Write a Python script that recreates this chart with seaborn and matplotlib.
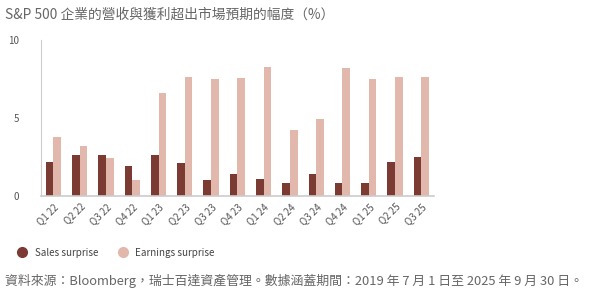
import matplotlib
matplotlib.use("Agg")
import matplotlib.pyplot as plt
import seaborn as sns
import pandas as pd
from matplotlib.lines import Line2D

quarters = ["Q1 22", "Q2 22", "Q3 22", "Q4 22", "Q1 23", "Q2 23", "Q3 23", "Q4 23",
            "Q1 24", "Q2 24", "Q3 24", "Q4 24", "Q1 25", "Q2 25", "Q3 25"]
sales_surprise = [2.2, 2.6, 2.6, 1.9, 2.6, 2.1, 1.0, 1.4, 1.1, 0.85, 1.4, 0.85, 0.8, 2.2, 2.5]
earnings_surprise = [3.8, 3.2, 2.4, 1.0, 6.6, 7.6, 7.5, 7.55, 8.25, 4.2, 4.9, 8.2, 7.5, 7.65, 7.6]
series_names = ["Sales surprise", "Earnings surprise"]
yticks = [0, 5, 10]
title = "S&P 500 企業的營收與獲利超出市場預期的幅度（%）"
footer = "資料來源：Bloomberg，瑞士百達資產管理。數據涵蓋期間：2019 年 7 月 1 日至 2025 年 9 月 30 日。"

colors = ["#7b3b32", "#e2b8ad"]

df = pd.DataFrame({
    "quarter": quarters * 2,
    "value": sales_surprise + earnings_surprise,
    "series": [series_names[0]] * len(quarters) + [series_names[1]] * len(quarters),
})

sns.set_style("white")
plt.rcParams["font.family"] = ["Noto Sans CJK TC", "DejaVu Sans"]

fig = plt.figure(figsize=(5.92, 3.0), dpi=100)
ax = fig.add_axes([0.069, 0.347, 0.664, 0.52])

sns.barplot(data=df, x="quarter", y="value", hue="series", palette=colors,
            width=0.58, ax=ax, legend=False, saturation=1, linewidth=0, gap=0)

ax.set_xlim(-0.48, len(quarters) - 1 + 0.48)
ax.set_ylim(0, 10)
ax.set_yticks(yticks)
ax.set_yticklabels([str(t) for t in yticks], fontsize=7, color="#555555")
ax.set_xticks(range(len(quarters)))
ax.set_xticklabels(quarters, rotation=45, ha="right", rotation_mode="anchor",
                   fontsize=7, color="#555555")
ax.tick_params(axis="y", length=0, pad=16)
ax.tick_params(axis="x", length=0, pad=4)
ax.set_xlabel("")
ax.set_ylabel("")
for s in ["top", "right"]:
    ax.spines[s].set_visible(False)
ax.spines["left"].set_color("#cccccc")
ax.spines["left"].set_linewidth(0.8)
ax.spines["bottom"].set_color("#cccccc")
ax.spines["bottom"].set_linewidth(1.2)

fig.text(0.008, 0.975, title, fontsize=9.9, color="#666666", va="top", ha="left")

handles = [Line2D([0], [0], marker="o", linestyle="", markersize=7,
                  markerfacecolor=c, markeredgecolor=c) for c in colors]
fig.legend(handles, series_names, loc="center left", bbox_to_anchor=(0.005, 0.157),
           ncol=2, frameon=False, fontsize=7.1, handletextpad=0.3, columnspacing=1.5,
           labelcolor="#444444")

fig.text(0.008, 0.065, footer, fontsize=9.3, color="#666666", va="center", ha="left")

fig.savefig("out.png", dpi=100)
